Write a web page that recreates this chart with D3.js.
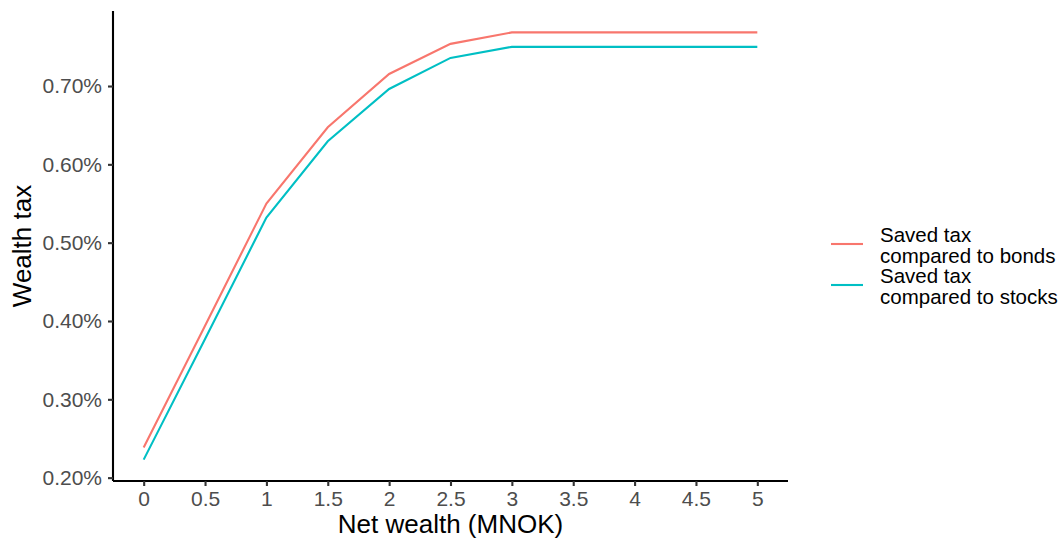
<!DOCTYPE html>
<html><head><meta charset="utf-8">
<script src="https://cdn.jsdelivr.net/npm/d3@7"></script>
<style>body{margin:0;background:#fff}svg{font-family:"Liberation Sans",Arial,sans-serif}</style>
</head><body><svg id="c" width="1062" height="540"></svg>
<script>
const wealth = [0, 0.5, 1, 1.5, 2, 2.5, 3, 3.5, 4, 4.5, 5];
const bonds  = [0.2385, 0.394, 0.550, 0.6474, 0.7154, 0.7538, 0.7685, 0.7685, 0.7685, 0.7685, 0.7685];
const stocks = [0.2230, 0.377, 0.532, 0.6295, 0.6962, 0.7359, 0.7500, 0.7500, 0.7500, 0.7500, 0.7500];
const seriesNames = ["Saved tax\ncompared to bonds", "Saved tax\ncompared to stocks"];
const colors = ["#F8766D", "#00BFC4"];
const xTicks = [0, 0.5, 1, 1.5, 2, 2.5, 3, 3.5, 4, 4.5, 5];
const yTicks = [0.2, 0.3, 0.4, 0.5, 0.6, 0.7];

const svg = d3.select("#c");
const L = 113, R = 788, T = 11, B = 481;
const xs = d3.scaleLinear().domain([-0.25, 5.25]).range([L, R]);
const all = bonds.concat(stocks);
const ymin = d3.min(all), ymax = d3.max(all), pad = (ymax - ymin) * 0.05;
const ys = d3.scaleLinear().domain([ymin - pad, ymax + pad]).range([B, T]);

const series = [bonds, stocks];
const line = d3.line().x((d, i) => xs(wealth[i])).y(d => ys(d));
series.forEach((s, k) => {
  svg.append("path").attr("d", line(s)).attr("fill", "none")
    .attr("stroke", colors[k]).attr("stroke-width", 2.1);
});

const xAxis = svg.append("g").attr("transform", `translate(0,${B})`)
  .call(d3.axisBottom(xs).tickValues(xTicks).tickSize(5).tickPadding(5).tickFormat(d => d3.format("~g")(d)));
const yAxis = svg.append("g").attr("transform", `translate(${L},0)`)
  .call(d3.axisLeft(ys).tickValues(yTicks).tickSize(5).tickPadding(6).tickFormat(d => d3.format(".2f")(d) + "%"));
[xAxis, yAxis].forEach(g => {
  g.select(".domain").attr("stroke", "#000").attr("stroke-width", 2.1);
  g.selectAll(".tick line").attr("stroke", "#333").attr("stroke-width", 2.1);
  g.selectAll(".tick text").attr("fill", "#4D4D4D").attr("font-size", 21).attr("font-family", '"Liberation Sans",Arial,sans-serif');
});
xAxis.select(".domain").attr("d", `M${L},0H${R}`);
yAxis.select(".domain").attr("d", `M0,${T}V${B}`);

svg.append("text").attr("x", (L + R) / 2).attr("y", 533).attr("text-anchor", "middle")
  .attr("font-size", 26).text("Net wealth (MNOK)");
svg.append("text").attr("transform", `translate(31,${(T + B) / 2}) rotate(-90)`)
  .attr("text-anchor", "middle").attr("font-size", 26).text("Wealth tax");

seriesNames.forEach((n, k) => {
  const cy = 244 + k * 41;
  svg.append("line").attr("x1", 831).attr("x2", 863).attr("y1", cy).attr("y2", cy)
    .attr("stroke", colors[k]).attr("stroke-width", 2.1);
  const t = svg.append("text").attr("x", 880).attr("y", cy - 2.5).attr("font-size", 20.5);
  n.split("\n").forEach((p, j) => {
    t.append("tspan").attr("x", 880).attr("dy", j === 0 ? 0 : 21).text(p);
  });
});
</script></body></html>
